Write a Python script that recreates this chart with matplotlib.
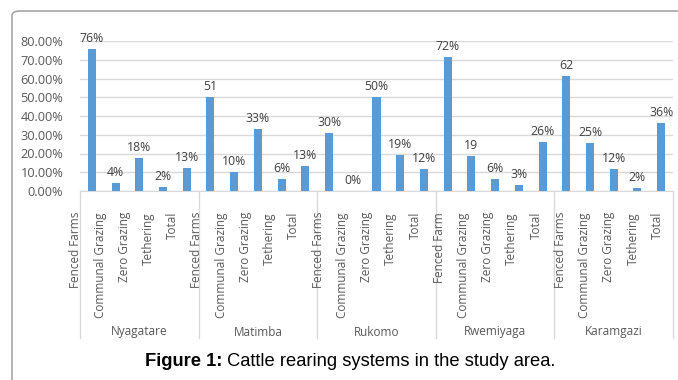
import matplotlib
matplotlib.use("Agg")
import matplotlib.pyplot as plt
from matplotlib.patches import FancyBboxPatch
from matplotlib.ticker import FuncFormatter
import matplotlib.transforms as mtransforms

# data
sites = ["Nyagatare", "Matimba", "Rukomo", "Rwemiyaga", "Karamgazi"]
systems = [
    ["Fenced Farms", "Communal Grazing", "Zero Grazing", "Tethering", "Total"],
    ["Fenced Farms", "Communal Grazing", "Zero Grazing", "Tethering", "Total"],
    ["Fenced Farms", "Communal Grazing", "Zero Grazing", "Tethering", "Total"],
    ["Fenced Farm", "Communal Grazing", "Zero Grazing", "Tethering", "Total"],
    ["Fenced Farms", "Communal Grazing", "Zero Grazing", "Tethering", "Total"],
]
values = [
    [0.757, 0.043, 0.176, 0.021, 0.123],
    [0.501, 0.101, 0.331, 0.064, 0.133],
    [0.309, 0.0, 0.501, 0.192, 0.117],
    [0.715, 0.188, 0.064, 0.032, 0.261],
    [0.613, 0.256, 0.117, 0.016, 0.363],
]
bar_labels = [
    ["76%", "4%", "18%", "2%", "13%"],
    ["51", "10%", "33%", "6%", "13%"],
    ["30%", "0%", "50%", "19%", "12%"],
    ["72%", "19", "6%", "3%", "26%"],
    ["62", "25%", "12%", "2%", "36%"],
]
yticks = [0.0, 0.1, 0.2, 0.3, 0.4, 0.5, 0.6, 0.7, 0.8]

BAR = "#5b9bd5"
GRID = "#d9d9d9"
TXT = "#595959"
FONT = "Open Sans"

W, H = 678, 380
fig = plt.figure(figsize=(W / 100, H / 100), dpi=100)

# outer chart frame, runs off the right and bottom edges
frame = FancyBboxPatch((12 / W, -20 / H), 700 / W, (H - 11 + 20) / H,
                       boxstyle="round,pad=0,rounding_size=0.012",
                       transform=fig.transFigure, fill=False,
                       edgecolor="#a6a6a6", linewidth=1.2)
fig.patches.append(frame)

ax = fig.add_axes([80 / W, (H - 191) / H, (673 - 80) / W, 150 / H])

flat_vals = [v for g in values for v in g]
flat_lbls = [s for g in bar_labels for s in g]
flat_cats = [c for g in systems for c in g]
xs = list(range(len(flat_vals)))

bars = ax.bar(xs, flat_vals, width=0.34, color=BAR, zorder=3)
for b, lab in zip(bars, flat_lbls):
    ax.annotate(lab, (b.get_x() + b.get_width() / 2, b.get_height()),
                xytext=(0, 3), textcoords="offset points",
                ha="center", va="bottom", fontsize=8.8, color="#404040",
                family=FONT, annotation_clip=False)

ax.set_xlim(-0.5, len(xs) - 0.5)
ax.set_ylim(0, 0.8)
ax.set_yticks(yticks)
ax.yaxis.set_major_formatter(FuncFormatter(lambda v, p: f"{v * 100:.2f}%"))
ax.tick_params(axis="y", length=0, pad=12, labelsize=9.2, labelcolor=TXT)
for t in ax.get_yticklabels():
    t.set_family(FONT)
ax.set_xticks([])
ax.grid(axis="y", color=GRID, linewidth=1, zorder=0)
for s in ["top", "right", "left"]:
    ax.spines[s].set_visible(False)
ax.spines["bottom"].set_color(GRID)

# category labels (rotated), slightly shifted like the original
trans = mtransforms.blended_transform_factory(ax.transData, ax.transAxes)
slot = (673 - 80) / len(xs)
for i, cat in enumerate(flat_cats):
    shift = (-16 + 0.5 * i) / slot
    ax.text(i + shift, -21 / 150, cat, rotation=90, ha="center", va="top",
            fontsize=8.5, color=TXT, family=FONT, transform=trans)

# group separators and group names
n = len(systems[0])
for g in range(len(sites) + 1):
    ax.plot([g * n - 0.5] * 2, [0, -147 / 150], color=GRID, linewidth=1,
            transform=trans, clip_on=False)
for g, name in enumerate(sites):
    ax.text(g * n + (n - 1) / 2, -141 / 150, name, ha="center", va="center",
            fontsize=8.5, color=TXT, family=FONT, transform=trans)

# caption with bold prefix
cy = (H - 362) / H
t1 = fig.text(0, cy, "Figure 1:", fontsize=13.2, fontweight="bold",
              family="Liberation Sans", va="center", ha="left")
t2 = fig.text(0, cy, " Cattle rearing systems in the study area.", fontsize=13.2,
              family="Liberation Sans", va="center", ha="left")
fig.canvas.draw()
r = fig.canvas.get_renderer()
w1 = t1.get_window_extent(r).width
w2 = t2.get_window_extent(r).width
x0 = 350 - (w1 + w2) / 2
t1.set_x(x0 / W)
t2.set_x((x0 + w1) / W)

fig.savefig("out.png", dpi=100)
